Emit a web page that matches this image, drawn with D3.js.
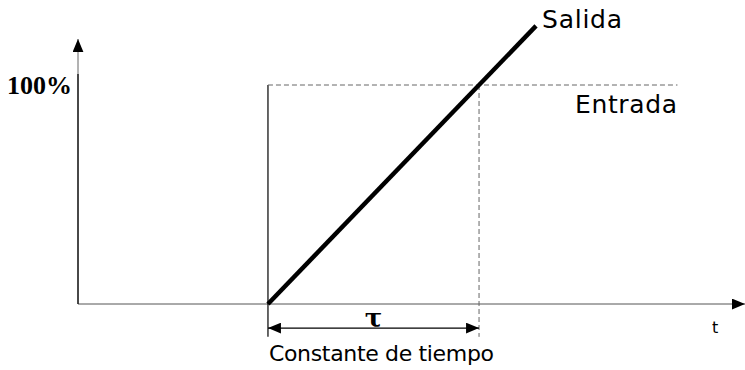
<!DOCTYPE html>
<html lang="es">
<head>
<meta charset="utf-8">
<title>Constante de tiempo</title>
<script src="https://d3js.org/d3.v7.min.js"></script>
<style>
  body { margin: 0; background: white; }
  .lbl { font-family: "DejaVu Sans", sans-serif; fill: #000; }
</style>
</head>
<body>
<svg width="745" height="370"></svg>
<script>
// time in units of tau, step applied at t = 1
const axisT = [0.1, 3.26];
const axisY = [0, 121];
const stepT = 1;
const tauT = 2;
const inputLevel = 100;
const inputEndT = 2.94;
const salidaT = [1, 2.27];
const salidaY = [0, 127];

const svg = d3.select("svg");
const x = d3.scaleLinear().domain(axisT).range([78, 745]);
const y = d3.scaleLinear().domain([0, 100]).range([304, 85]);

const defs = svg.append("defs");
defs.append("marker").attr("id", "arr").attr("viewBox", "0 0 12 10")
    .attr("refX", 12).attr("refY", 5).attr("markerWidth", 13).attr("markerHeight", 11)
    .attr("markerUnits", "userSpaceOnUse").attr("orient", "auto-start-reverse")
  .append("path").attr("d", "M0,0L12,5L0,10Z").attr("fill", "#000");

// axes
svg.append("line")
   .attr("x1", x(axisT[0])).attr("y1", y(0))
   .attr("x2", x(axisT[1])).attr("y2", y(0))
   .attr("stroke", "#555").attr("stroke-width", 1)
   .attr("marker-end", "url(#arr)");
svg.append("line")
   .attr("x1", x(axisT[0])).attr("y1", y(0))
   .attr("x2", x(axisT[0])).attr("y2", y(axisY[1]))
   .attr("stroke", "#666").attr("stroke-width", 1)
   .attr("marker-end", "url(#arr)");
svg.append("line")
   .attr("x1", x(axisT[0])).attr("y1", y(0))
   .attr("x2", x(axisT[0])).attr("y2", y(105))
   .attr("stroke", "#000").attr("stroke-width", 1.2);

// input step: vertical at t=1 and dashed level at 100%
svg.append("line")
   .attr("x1", x(stepT)).attr("y1", y(-15))
   .attr("x2", x(stepT)).attr("y2", y(inputLevel))
   .attr("stroke", "#000").attr("stroke-width", 1.2);
svg.append("line")
   .attr("x1", x(stepT)).attr("y1", y(inputLevel))
   .attr("x2", x(inputEndT)).attr("y2", y(inputLevel))
   .attr("stroke", "#666").attr("stroke-width", 1)
   .attr("stroke-dasharray", "5,3");
svg.append("line")
   .attr("x1", x(tauT)).attr("y1", y(inputLevel))
   .attr("x2", x(tauT)).attr("y2", y(-15))
   .attr("stroke", "#666").attr("stroke-width", 1)
   .attr("stroke-dasharray", "5,3");

// output ramp
svg.append("path")
   .datum(d3.zip(salidaT, salidaY))
   .attr("d", d3.line().x(d => x(d[0])).y(d => y(d[1])))
   .attr("stroke", "#000").attr("stroke-width", 4.5).attr("fill", "none");

// tau dimension arrow
svg.append("line")
   .attr("x1", x(stepT)).attr("y1", y(-11))
   .attr("x2", x(tauT)).attr("y2", y(-11))
   .attr("stroke", "#000").attr("stroke-width", 1.2)
   .attr("marker-start", "url(#arr)").attr("marker-end", "url(#arr)");

// labels
svg.append("text").attr("x", 7).attr("y", y(inputLevel) + 9)
   .attr("font-family", "Liberation Serif, serif").attr("font-weight", "bold")
   .attr("font-size", 26).attr("textLength", 65).text("100%");
svg.append("text").attr("class", "lbl")
   .attr("x", x(salidaT[1]) + 6).attr("y", 28)
   .attr("font-size", 25).attr("textLength", 80).text("Salida");
svg.append("text").attr("class", "lbl")
   .attr("x", 575).attr("y", 113)
   .attr("font-size", 25).attr("textLength", 102).text("Entrada");
svg.append("text").attr("class", "lbl")
   .attr("x", x(stepT) + 1).attr("y", 361)
   .attr("font-size", 22).attr("textLength", 225).text("Constante de tiempo");
svg.append("text").attr("class", "lbl")
   .attr("x", 712).attr("y", 333)
   .attr("font-size", 16).text("t");
svg.append("text")
   .attr("x", (x(stepT) + x(tauT)) / 2).attr("y", 327)
   .attr("text-anchor", "middle")
   .attr("font-family", "DejaVu Serif, serif").attr("font-weight", "bold")
   .attr("font-size", 26).text("τ");
</script>
</body>
</html>
